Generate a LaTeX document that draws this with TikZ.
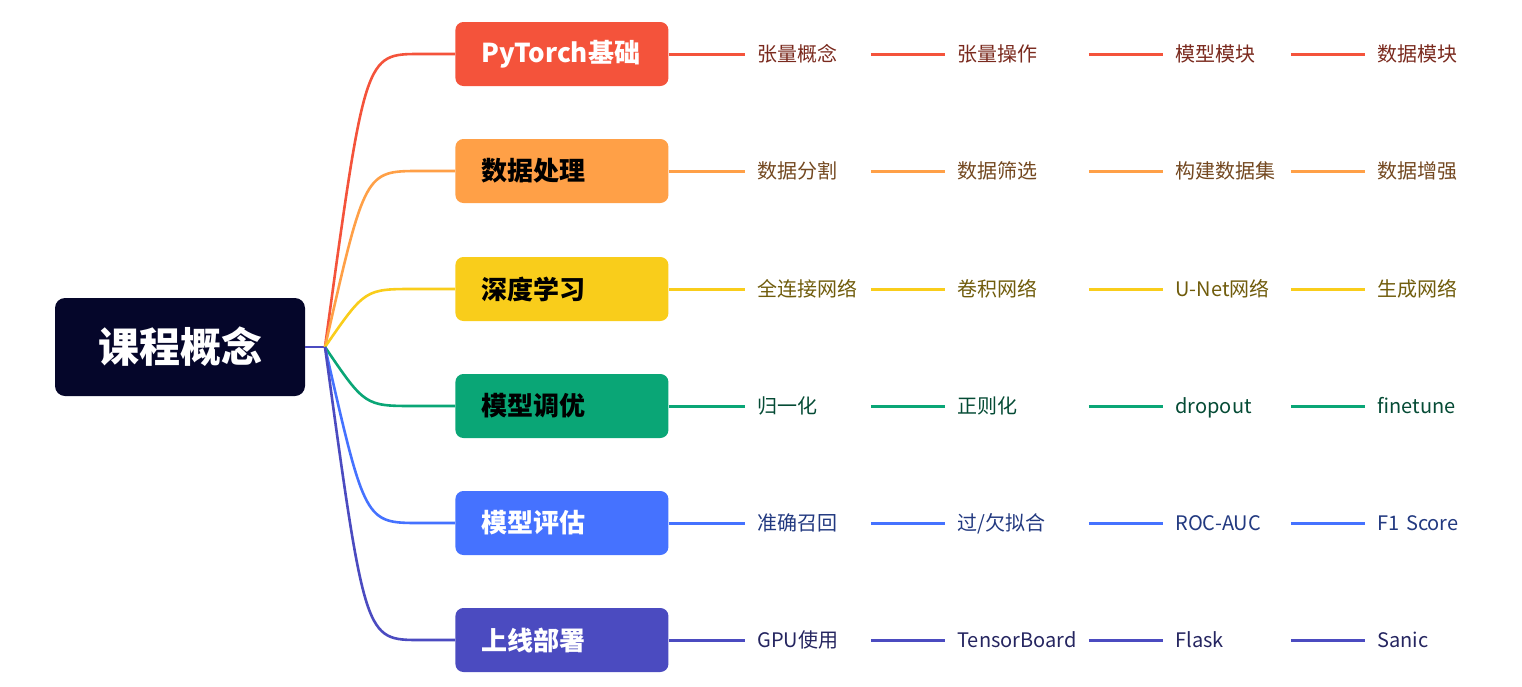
\documentclass[tikz,border=0pt]{standalone}
\usepackage{fontspec}
\setmainfont{Noto Sans CJK SC}
\usepackage{xcolor}
\usetikzlibrary{calc}
\definecolor{rootfill}{HTML}{05062A}
\definecolor{cRed}{HTML}{F4533B}
\definecolor{cOrange}{HTML}{FFA047}
\definecolor{cYellow}{HTML}{F9CD1B}
\definecolor{cGreen}{HTML}{0AA676}
\definecolor{cBlue}{HTML}{4572FF}
\definecolor{cIndigo}{HTML}{4B4BC0}
\tikzset{
  rootbox/.style={fill=rootfill, text=white, rounded corners=5pt, minimum width=125pt, minimum height=49pt, font=\fontsize{20.5}{24}\selectfont\bfseries},
  branch/.style={anchor=west, rounded corners=4pt, minimum height=32pt, inner xsep=13pt, text width=80.5pt, align=left, font=\fontsize{13}{16}\selectfont\bfseries},
  leaf/.style={anchor=west, inner xsep=6pt, inner ysep=0pt, text height=8.8pt, text depth=1.2pt, align=left, font=\fontsize{10}{12}\selectfont},
  colA/.style={leaf, text width=50.5pt},
  colB/.style={leaf, text width=59.5pt},
  colC/.style={leaf, text width=51.5pt},
  colD/.style={leaf, text width=50pt},
  link/.style={line width=1.3pt},
  twig/.style={line width=1.5pt}
}
\begin{document}
\begin{tikzpicture}[x=0.5pt, y=-0.5pt]
      \useasboundingbox (0,0) rectangle (1522,686);

      \node[rootbox] (root) at (180,347) {课程概念};
      \coordinate (hub) at (325,347);
      \draw[cIndigo, link] (root) -- (hub);

      % PyTorch
      \node[branch, fill=cRed, text=white] (torch) at (455,54) {PyTorch基础};
      \node[colA, text=cRed!50!black] (torch1) at (745,54) {张量概念};
      \node[colB, text=cRed!50!black] (torch2) at (945,54) {张量操作};
      \node[colC, text=cRed!50!black] (torch3) at (1163,54) {模型模块};
      \node[colD, text=cRed!50!black] (torch4) at (1365,54) {数据模块};
      \draw[cRed, link] (hub) .. controls ($(hub |- torch.west)+(40,0)$) .. ($(hub |- torch.west)+(95,0)$) -- (torch.west);
      \draw[cRed, twig] (torch) -- (torch1) (torch1) -- (torch2) (torch2) -- (torch3) (torch3) -- (torch4);

      % data
      \node[branch, fill=cOrange, text=black] (data) at (455,171) {数据处理};
      \node[colA, text=cOrange!45!black] (data1) at (745,171) {数据分割};
      \node[colB, text=cOrange!45!black] (data2) at (945,171) {数据筛选};
      \node[colC, text=cOrange!45!black] (data3) at (1163,171) {构建数据集};
      \node[colD, text=cOrange!45!black] (data4) at (1365,171) {数据增强};
      \draw[cOrange, link] (hub) .. controls ($(hub |- data.west)+(40,0)$) .. ($(hub |- data.west)+(95,0)$) -- (data.west);
      \draw[cOrange, twig] (data) -- (data1) (data1) -- (data2) (data2) -- (data3) (data3) -- (data4);

      % deep learning
      \node[branch, fill=cYellow, text=black] (deep) at (455,289) {深度学习};
      \node[colA, text=cYellow!45!black] (deep1) at (745,289) {全连接网络};
      \node[colB, text=cYellow!45!black] (deep2) at (945,289) {卷积网络};
      \node[colC, text=cYellow!45!black] (deep3) at (1163,289) {U-Net网络};
      \node[colD, text=cYellow!45!black] (deep4) at (1365,289) {生成网络};
      \draw[cYellow, link] (hub) .. controls ($(hub |- deep.west)+(40,0)$) .. ($(hub |- deep.west)+(90,0)$) -- (deep.west);
      \draw[cYellow, twig] (deep) -- (deep1) (deep1) -- (deep2) (deep2) -- (deep3) (deep3) -- (deep4);

      % tuning
      \node[branch, fill=cGreen, text=black] (tune) at (455,406) {模型调优};
      \node[colA, text=cGreen!45!black] (tune1) at (745,406) {归一化};
      \node[colB, text=cGreen!45!black] (tune2) at (945,406) {正则化};
      \node[colC, text=cGreen!45!black] (tune3) at (1163,406) {dropout};
      \node[colD, text=cGreen!45!black] (tune4) at (1365,406) {finetune};
      \draw[cGreen, link] (hub) .. controls ($(hub |- tune.west)+(40,0)$) .. ($(hub |- tune.west)+(90,0)$) -- (tune.west);
      \draw[cGreen, twig] (tune) -- (tune1) (tune1) -- (tune2) (tune2) -- (tune3) (tune3) -- (tune4);

      % evaluation
      \node[branch, fill=cBlue, text=white] (eval) at (455,523) {模型评估};
      \node[colA, text=cBlue!50!black] (eval1) at (745,523) {准确召回};
      \node[colB, text=cBlue!50!black] (eval2) at (945,523) {过/欠拟合};
      \node[colC, text=cBlue!50!black] (eval3) at (1163,523) {ROC-AUC};
      \node[colD, text=cBlue!50!black] (eval4) at (1365,523) {F1 Score};
      \draw[cBlue, link] (hub) .. controls ($(hub |- eval.west)+(40,0)$) .. ($(hub |- eval.west)+(95,0)$) -- (eval.west);
      \draw[cBlue, twig] (eval) -- (eval1) (eval1) -- (eval2) (eval2) -- (eval3) (eval3) -- (eval4);

      % deploy
      \node[branch, fill=cIndigo, text=white] (deploy) at (455,640) {上线部署};
      \node[colA, text=cIndigo!50!black] (deploy1) at (745,640) {GPU使用};
      \node[colB, text=cIndigo!50!black] (deploy2) at (945,640) {TensorBoard};
      \node[colC, text=cIndigo!50!black] (deploy3) at (1163,640) {Flask};
      \node[colD, text=cIndigo!50!black] (deploy4) at (1365,640) {Sanic};
      \draw[cIndigo, link] (hub) .. controls ($(hub |- deploy.west)+(40,0)$) .. ($(hub |- deploy.west)+(95,0)$) -- (deploy.west);
      \draw[cIndigo, twig] (deploy) -- (deploy1) (deploy1) -- (deploy2) (deploy2) -- (deploy3) (deploy3) -- (deploy4);

\end{tikzpicture}
\end{document}
